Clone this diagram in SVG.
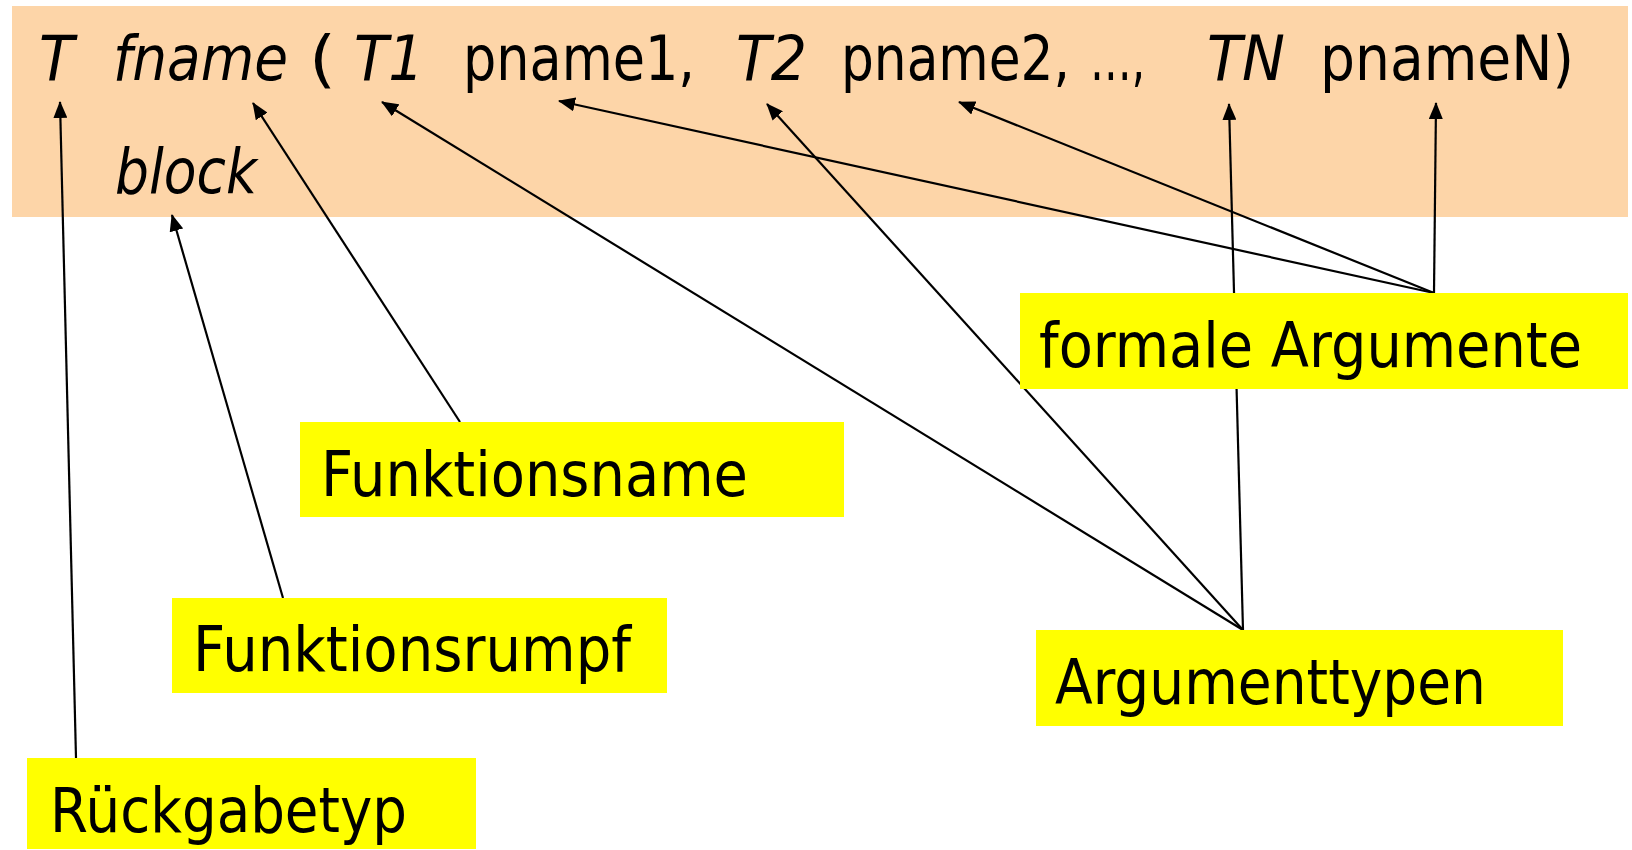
<svg xmlns="http://www.w3.org/2000/svg" width="1632" height="850" viewBox="0 0 1632 850">
<style>
.t{font-family:"DejaVu Sans","Liberation Sans",sans-serif;font-size:62px;fill:#000}
.i{font-style:italic}
.lab{fill:#FFFF00}
.c{stroke:#000;stroke-width:2.2;fill:none;marker-end:url(#ah)}
</style>
<defs>
<marker id="ah" viewBox="0 0 17 14" refX="16" refY="7" markerWidth="17" markerHeight="14" markerUnits="userSpaceOnUse" orient="auto">
<path d="M0,0 L17,7 L0,14 z" fill="#000"/>
</marker>
</defs>
<rect width="1632" height="850" fill="#fff"/>
<g id="signature">
<rect x="12" y="6" width="1616" height="211" fill="#FDD5A8"/>
<text class="t i" x="39" y="80" textLength="35" lengthAdjust="spacingAndGlyphs">T</text>
<text class="t i" x="113" y="80" textLength="175" lengthAdjust="spacingAndGlyphs">fname</text>
<text class="t" x="309" y="80" textLength="27" lengthAdjust="spacingAndGlyphs">(</text>
<text class="t i" x="354" y="80" textLength="70" lengthAdjust="spacingAndGlyphs">T1</text>
<text class="t" x="463" y="80" textLength="232" lengthAdjust="spacingAndGlyphs">pname1,</text>
<text class="t i" x="736" y="80" textLength="71" lengthAdjust="spacingAndGlyphs">T2</text>
<text class="t" x="841" y="80" textLength="229" lengthAdjust="spacingAndGlyphs">pname2,</text>
<text class="t" x="1090" y="80" textLength="55" lengthAdjust="spacingAndGlyphs">…,</text>
<text class="t i" x="1207" y="80" textLength="78" lengthAdjust="spacingAndGlyphs">TN</text>
<text class="t" x="1320" y="80" textLength="254" lengthAdjust="spacingAndGlyphs">pnameN)</text>
<text class="t i" x="115" y="193" textLength="142" lengthAdjust="spacingAndGlyphs">block</text>
</g>
<g id="connectors">
<line class="c" x1="76" y1="758" x2="60" y2="102"/>
<line class="c" x1="283" y1="598" x2="172" y2="215"/>
<line class="c" x1="460" y1="422" x2="253" y2="103"/>
<line class="c" x1="1243" y1="630" x2="382" y2="102"/>
<line class="c" x1="1243" y1="630" x2="767" y2="104"/>
<line class="c" x1="1243" y1="630" x2="1229" y2="104"/>
<line class="c" x1="1434" y1="293" x2="559" y2="101"/>
<line class="c" x1="1434" y1="293" x2="959" y2="102"/>
<line class="c" x1="1434" y1="293" x2="1436" y2="103"/>
</g>
<g id="formale-argumente">
<rect class="lab" x="1020" y="293" width="608" height="96"/>
<text class="t" x="1039" y="367" textLength="543" lengthAdjust="spacingAndGlyphs">formale Argumente</text>
</g>
<g id="funktionsname">
<rect class="lab" x="300" y="422" width="544" height="95"/>
<text class="t" x="321" y="496" textLength="427" lengthAdjust="spacingAndGlyphs">Funktionsname</text>
</g>
<g id="funktionsrumpf">
<rect class="lab" x="172" y="598" width="495" height="95"/>
<text class="t" x="193" y="671" textLength="438" lengthAdjust="spacingAndGlyphs">Funktionsrumpf</text>
</g>
<g id="argumenttypen">
<rect class="lab" x="1036" y="630" width="527" height="96"/>
<text class="t" x="1055" y="704" textLength="431" lengthAdjust="spacingAndGlyphs">Argumenttypen</text>
</g>
<g id="rueckgabetyp">
<rect class="lab" x="27" y="758" width="449" height="91"/>
<text class="t" x="50" y="832" textLength="357" lengthAdjust="spacingAndGlyphs">Rückgabetyp</text>
</g>
</svg>
